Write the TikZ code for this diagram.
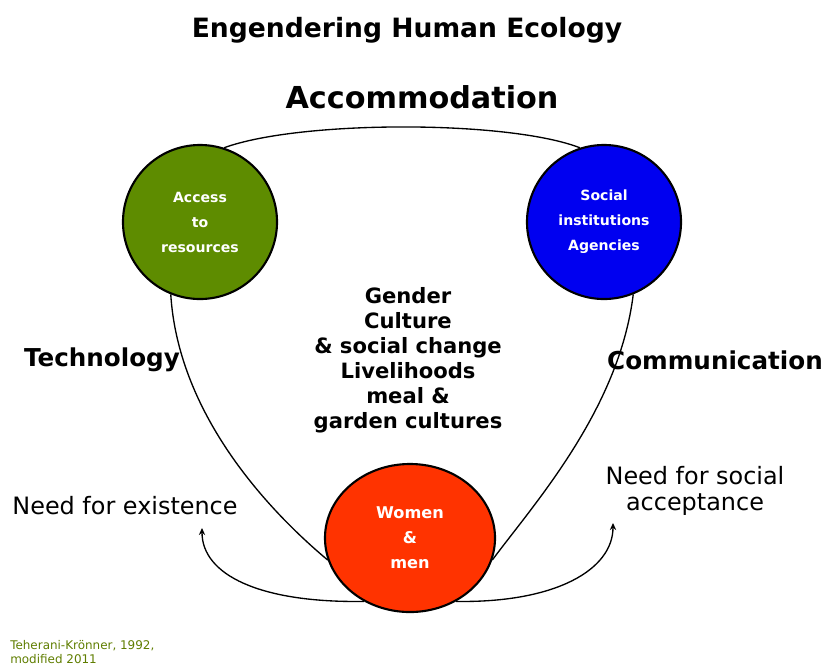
\documentclass[tikz,border=0pt]{standalone}
\usepackage{fontspec}
\setmainfont{DejaVu Sans}
\usetikzlibrary{shapes.geometric,arrows.meta}

\definecolor{resgreen}{RGB}{94,140,0}
\definecolor{instblue}{RGB}{0,0,240}
\definecolor{womenred}{RGB}{255,51,0}
\definecolor{creditgreen}{RGB}{95,125,0}

\tikzset{
  pole/.style={circle, draw=black, line width=1.5pt, minimum size=3.85cm,
    inner sep=0pt, text=white, align=center,
    font=\fontsize{10}{17.8}\selectfont\bfseries},
  heading/.style={font=\fontsize{17.5}{20}\selectfont\bfseries},
  link/.style={line width=0.95pt},
  need/.style={-{Stealth[length=5pt,width=4.5pt]}, line width=0.95pt},
  remark/.style={font=\fontsize{17}{18.5}\selectfont, align=center}
}

\begin{document}
\begin{tikzpicture}[x=0.025cm, y=-0.025cm]
            \useasboundingbox (0,0) rectangle (827,666);
            % Titoli
            \node[font=\fontsize{18.9}{22}\selectfont\bfseries] (title) at (407,30) {Engendering Human Ecology};
            \node[font=\fontsize{21.5}{24}\selectfont\bfseries] (accom) at (422,97) {Accommodation};
            % I tre cerchi
            \node[pole, fill=resgreen] (access) at (200,222) {Access\\to\\resources};
            \node[pole, fill=instblue] (social) at (604,222) {Social\\institutions\\Agencies};
            \node[ellipse, draw=black, line width=1.5pt, fill=womenred, minimum width=4.25cm,
              minimum height=3.7cm, inner sep=0pt, text=white, align=center,
              font=\fontsize{11.5}{17.8}\selectfont\bfseries] (women) at (410,538) {Women\\\&\\men};
            % Collegamenti
            \draw[link] (access.72) .. controls (300,120) and (508,120) .. (social.108);
            \draw[link] (access.-112) .. controls (178,410) and (262,505) .. (women.-165);
            \draw[link] (social.-68) .. controls (619,410) and (533,505) .. (women.-15);
            % Etichette laterali
            \node[heading] (techno) at (102,360) {Technology};
            \node[heading] (commu) at (715,360) {Communication};
            \node[font=\fontsize{15}{17.8}\selectfont\bfseries, align=center] (centre) at (408,360)
              {Gender\\Culture\\\& social change\\Livelihoods\\meal \&\\garden cultures};
            % Bisogni
            \node[remark] (exist) at (125,506) {Need for existence};
            \node[remark] (accept) at (695,491) {Need for social\\acceptance};
            \coordinate (existtip) at (202,528);
            \coordinate (accepttip) at (613,523);
            \draw[need] (women.-126) .. controls (260,603) and (202,575) .. (existtip);
            \draw[need] (women.-54) .. controls (555,603) and (613,570) .. (accepttip);
            % Fonte
            \node[anchor=north west, inner sep=0pt, text=creditgreen, align=left,
              font=\fontsize{8.5}{10}\selectfont] (credit) at (10,640) {Teherani-Krönner, 1992,\\modified 2011};
\end{tikzpicture}
\end{document}
